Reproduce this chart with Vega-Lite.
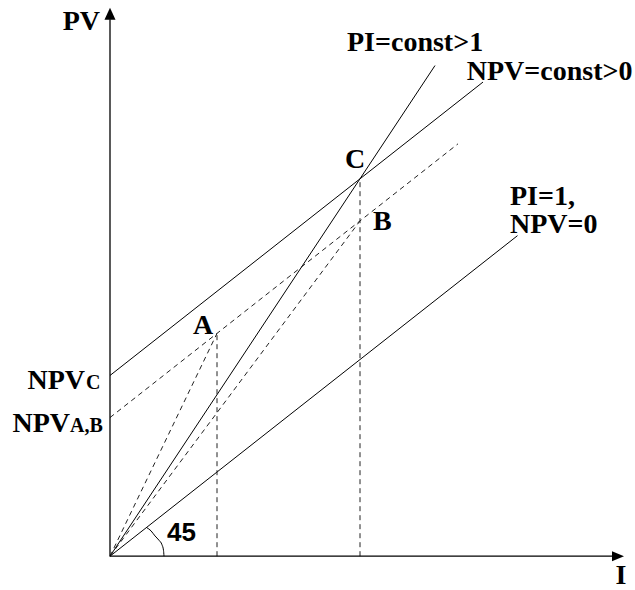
{
  "$schema": "https://vega.github.io/schema/vega-lite/v6.json",
  "width": 635,
  "height": 590,
  "autosize": {"type": "fit", "contains": "padding"},
  "padding": 0,
  "background": "white",
  "config": {"view": {"stroke": null}},
  "datasets": {
    "segs": [
      {"seg": "pi1", "kind": "solid", "o": 1, "I": 0, "PV": 0},
      {"seg": "pi1", "kind": "solid", "o": 2, "I": 16.3, "PV": 16.3},
      {"seg": "pic", "kind": "solid", "o": 1, "I": 0, "PV": 0},
      {"seg": "pic", "kind": "solid", "o": 2, "I": 13.0, "PV": 24.95},
      {"seg": "npvc", "kind": "solid", "o": 1, "I": 0, "PV": 9.19},
      {"seg": "npvc", "kind": "solid", "o": 2, "I": 14.92, "PV": 24.11},
      {"seg": "npvab", "kind": "dashed", "o": 1, "I": 0, "PV": 7.05},
      {"seg": "npvab", "kind": "dashed", "o": 2, "I": 13.92, "PV": 20.97},
      {"seg": "oa", "kind": "dashed", "o": 1, "I": 0, "PV": 0},
      {"seg": "oa", "kind": "dashed", "o": 2, "I": 4.28, "PV": 11.33},
      {"seg": "ob", "kind": "dashed", "o": 1, "I": 0, "PV": 0},
      {"seg": "ob", "kind": "dashed", "o": 2, "I": 10.0, "PV": 17.05},
      {"seg": "va", "kind": "dashed", "o": 1, "I": 4.28, "PV": 0},
      {"seg": "va", "kind": "dashed", "o": 2, "I": 4.28, "PV": 11.33},
      {"seg": "vc", "kind": "dashed", "o": 1, "I": 10.0, "PV": 0},
      {"seg": "vc", "kind": "dashed", "o": 2, "I": 10.0, "PV": 19.19},
      {"seg": "xaxis", "kind": "axis", "o": 1, "I": 0, "PV": 0},
      {"seg": "xaxis", "kind": "axis", "o": 2, "I": 20.1, "PV": 0},
      {"seg": "yaxis", "kind": "axis", "o": 1, "I": 0, "PV": 0},
      {"seg": "yaxis", "kind": "axis", "o": 2, "I": 0, "PV": 27.3}
    ],
    "arc": [
      {"o": 1, "I": 1.46, "PV": 1.46},
      {"o": 2, "I": 1.64, "PV": 1.29},
      {"o": 3, "I": 1.8, "PV": 1.03},
      {"o": 4, "I": 1.96, "PV": 0.81},
      {"o": 5, "I": 2.08, "PV": 0.58},
      {"o": 6, "I": 2.14, "PV": 0.3},
      {"o": 7, "I": 2.16, "PV": 0}
    ],
    "arrows": [
      {"dir": "up", "I": 0, "PV": 27.58},
      {"dir": "right", "I": 20.32, "PV": 0}
    ],
    "labels": [
      {"t": "PV", "align": "right", "size": "big", "I": -0.4, "PV": 26.77},
      {"t": "I", "align": "center", "size": "big", "I": 20.44, "PV": -1.41},
      {"t": "PI=const>1", "align": "left", "size": "big", "I": 9.48, "PV": 25.67},
      {"t": "NPV=const>0", "align": "left", "size": "big", "I": 14.27, "PV": 24.21},
      {"t": "C", "align": "left", "size": "big", "I": 9.4, "PV": 19.75},
      {"t": "B", "align": "left", "size": "big", "I": 10.52, "PV": 16.57},
      {"t": ["PI=1,", "NPV=0"], "align": "left", "size": "big", "I": 16.0, "PV": 17.88},
      {"t": "A", "align": "left", "size": "big", "I": 3.32, "PV": 11.31},
      {"t": "NPV", "align": "right", "size": "big", "I": -1.0, "PV": 8.48},
      {"t": "C", "align": "left", "size": "small", "I": -0.96, "PV": 8.48},
      {"t": "NPV", "align": "right", "size": "big", "I": -1.6, "PV": 6.31},
      {"t": "A,B", "align": "left", "size": "small", "I": -1.6, "PV": 6.31},
      {"t": "45", "align": "left", "size": "sans", "I": 2.28, "PV": 0.76}
    ]
  },
  "encoding": {
    "x": {"field": "I", "type": "quantitative", "scale": {"domain": [-4.4, 21.0], "nice": false, "zero": false}, "axis": null},
    "y": {"field": "PV", "type": "quantitative", "scale": {"domain": [-1.5152, 28.2828], "nice": false, "zero": false}, "axis": null}
  },
  "layer": [
    {
      "data": {"name": "segs"},
      "transform": [{"filter": "datum.kind == 'solid'"}],
      "mark": {"type": "line", "color": "black", "strokeWidth": 1},
      "encoding": {"detail": {"field": "seg"}, "order": {"field": "o"}}
    },
    {
      "data": {"name": "segs"},
      "transform": [{"filter": "datum.kind == 'dashed'"}],
      "mark": {"type": "line", "color": "#222222", "strokeWidth": 1, "strokeDash": [5, 4]},
      "encoding": {"detail": {"field": "seg"}, "order": {"field": "o"}}
    },
    {
      "data": {"name": "segs"},
      "transform": [{"filter": "datum.kind == 'axis'"}],
      "mark": {"type": "line", "color": "black", "strokeWidth": 1.3},
      "encoding": {"detail": {"field": "seg"}, "order": {"field": "o"}}
    },
    {
      "data": {"name": "arc"},
      "mark": {"type": "line", "color": "black", "strokeWidth": 1, "interpolate": "monotone"},
      "encoding": {"order": {"field": "o"}}
    },
    {
      "data": {"name": "arrows"},
      "transform": [{"filter": "datum.dir == 'up'"}],
      "mark": {"type": "point", "filled": true, "color": "black", "opacity": 1, "size": 144, "shape": "M0,-1L0.92,1L-0.92,1Z"}
    },
    {
      "data": {"name": "arrows"},
      "transform": [{"filter": "datum.dir == 'right'"}],
      "mark": {"type": "point", "filled": true, "color": "black", "opacity": 1, "size": 144, "shape": "M1,0L-1,0.83L-1,-0.83Z"}
    },
    {
      "data": {"name": "labels"},
      "transform": [{"filter": "datum.size == 'big' && datum.align == 'left'"}],
      "mark": {"type": "text", "align": "left", "baseline": "alphabetic", "font": "Liberation Serif", "fontSize": 28, "fontWeight": "bold", "lineHeight": 28, "color": "black"},
      "encoding": {"text": {"field": "t"}}
    },
    {
      "data": {"name": "labels"},
      "transform": [{"filter": "datum.size == 'big' && datum.align == 'right'"}],
      "mark": {"type": "text", "align": "right", "baseline": "alphabetic", "font": "Liberation Serif", "fontSize": 28, "fontWeight": "bold", "color": "black"},
      "encoding": {"text": {"field": "t"}}
    },
    {
      "data": {"name": "labels"},
      "transform": [{"filter": "datum.size == 'big' && datum.align == 'center'"}],
      "mark": {"type": "text", "align": "center", "baseline": "alphabetic", "font": "Liberation Serif", "fontSize": 28, "fontWeight": "bold", "color": "black"},
      "encoding": {"text": {"field": "t"}}
    },
    {
      "data": {"name": "labels"},
      "transform": [{"filter": "datum.size == 'small'"}],
      "mark": {"type": "text", "align": "left", "baseline": "alphabetic", "font": "Liberation Serif", "fontSize": 20, "fontWeight": "bold", "color": "black"},
      "encoding": {"text": {"field": "t"}}
    },
    {
      "data": {"name": "labels"},
      "transform": [{"filter": "datum.size == 'sans'"}],
      "mark": {"type": "text", "align": "left", "baseline": "alphabetic", "font": "Liberation Sans", "fontSize": 26, "fontWeight": "bold", "color": "black"},
      "encoding": {"text": {"field": "t"}}
    }
  ]
}
